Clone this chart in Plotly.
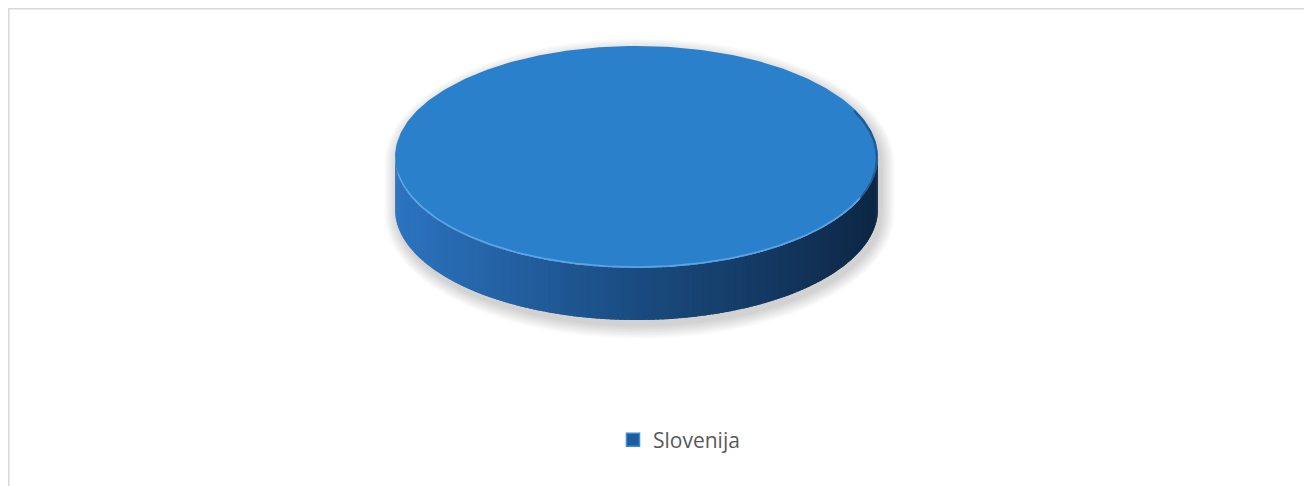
import numpy as np
import plotly.graph_objects as go

# ---- data ----
labels = ["Slovenija"]
values = [100.0]

# ---- style / layout parameters ----
W, H = 1312, 486
CX, CY = 628.5, 149.0       # centre of top face (px, figure coords)
RA, RB = 241.5, 111.0       # semi-axes of top ellipse
DEPTH = 52.0                # thickness of the 3D pie
TOP_COLOR = "#2B80CC"
SIDE_STOPS = [(0.0, (44, 116, 192)), (0.45, (27, 79, 134)), (0.75, (20, 58, 100)), (1.0, (13, 38, 68))]


def pt(theta, dy=0.0, ga=0.0, gb=0.0):
    # theta: clockwise from 12 o'clock, radians
    return CX + (RA + ga) * np.sin(theta), CY - (RB + gb) * np.cos(theta) + dy


def side_color(x):
    u = (x - (CX - RA)) / (2 * RA)
    u = min(max(u, 0.0), 1.0)
    for (u0, c0), (u1, c1) in zip(SIDE_STOPS[:-1], SIDE_STOPS[1:]):
        if u0 <= u <= u1:
            f = (u - u0) / (u1 - u0) if u1 > u0 else 0
            c = [round(c0[i] + f * (c1[i] - c0[i])) for i in range(3)]
            return "rgb(%d,%d,%d)" % tuple(c)
    return "rgb(%d,%d,%d)" % SIDE_STOPS[-1][1]


fig = go.Figure()

# slice angular spans derived from the values
vals = np.array(values, dtype=float)
frac = vals / vals.sum()
ends = np.cumsum(frac) * 2 * np.pi
starts = ends - frac * 2 * np.pi

# ---- soft shadow (silhouette of the cylinder, expanded) ----
th_back = np.linspace(-np.pi / 2, np.pi / 2, 181)
th_front = np.linspace(np.pi / 2, 3 * np.pi / 2, 181)
for k in range(9, 0, -1):
    g = k * 1.5
    xs1, ys1 = pt(th_back, dy=6, ga=g, gb=g)
    xs2, ys2 = pt(th_front, dy=DEPTH + 5, ga=g, gb=g)
    fig.add_trace(go.Scatter(
        x=np.concatenate([xs1 + 3, xs2 + 3]), y=np.concatenate([ys1, ys2]),
        mode="lines", fill="toself", fillcolor="rgba(0,0,0,0.02)",
        line=dict(width=0), hoverinfo="skip", showlegend=False))

# ---- side walls (visible front half) ----
for s, e in zip(starts, ends):
    lo, hi = max(s, np.pi / 2), min(e, 3 * np.pi / 2)
    if hi <= lo:
        continue
    n = 160
    edges = np.linspace(lo, hi, n + 1)
    dt = (hi - lo) / n
    for t0, t1 in zip(edges[:-1], edges[1:]):
        t1x = min(t1 + dt * 0.8, hi)
        tt = np.linspace(t0, t1x, 4)
        xa, ya = pt(tt)
        xb, yb = pt(tt[::-1], dy=DEPTH)
        col = side_color(pt((t0 + t1) / 2)[0])
        fig.add_trace(go.Scatter(
            x=np.concatenate([xa, xb]), y=np.concatenate([ya, yb]),
            mode="lines", fill="toself", fillcolor=col,
            line=dict(width=0), hoverinfo="skip", showlegend=False))

# ---- top faces ----
for lab, s, e, v in zip(labels, starts, ends, values):
    tt = np.linspace(s, e, 361)
    xs, ys = pt(tt)
    if e - s < 2 * np.pi - 1e-9:
        xs = np.concatenate([[CX], xs, [CX]])
        ys = np.concatenate([[CY], ys, [CY]])
    fig.add_trace(go.Scatter(
        x=xs, y=ys, mode="lines", fill="toself", fillcolor=TOP_COLOR,
        line=dict(width=0, color=TOP_COLOR), name=lab, legendgroup=lab,
        hovertemplate=f"{lab}: {v:g}<extra></extra>", showlegend=False))
    # legend entry (square marker)
    fig.add_trace(go.Scatter(
        x=[None], y=[None], mode="markers", name=lab, legendgroup=lab,
        marker=dict(symbol="square", size=13, color="#1F5C9C",
                    line=dict(color="#3A8AD4", width=1.5)),
        showlegend=True))

# rim highlight along front edge, dark bevel on right
tt = np.linspace(np.pi * 0.62, np.pi * 1.45, 200)
xs, ys = pt(tt, dy=-1.0)
fig.add_trace(go.Scatter(x=xs, y=ys, mode="lines", line=dict(color="rgba(110,175,240,0.75)", width=1.6),
                         hoverinfo="skip", showlegend=False))
tt = np.linspace(np.pi * 0.36, np.pi * 0.62, 100)
xs, ys = pt(tt, dy=1.0, ga=-1.0)
fig.add_trace(go.Scatter(x=xs, y=ys, mode="lines", line=dict(color="rgba(15,45,80,0.45)", width=2.4),
                         hoverinfo="skip", showlegend=False))

fig.update_layout(
    width=W, height=H,
    margin=dict(l=0, r=0, t=0, b=0),
    paper_bgcolor="white", plot_bgcolor="white",
    xaxis=dict(range=[0, W], visible=False, fixedrange=True),
    yaxis=dict(range=[H, 0], visible=False, fixedrange=True),
    showlegend=True,
    legend=dict(orientation="h", x=605 / W, xanchor="left", y=1 - 432 / H, yanchor="middle",
                font=dict(family="Open Sans, Liberation Sans, sans-serif", size=21, color="#595959"),
                itemwidth=30, bgcolor="rgba(0,0,0,0)"),
    shapes=[dict(type="rect", xref="paper", yref="paper",
                 x0=0.8 / W, x1=1.05, y0=-0.05, y1=1 - 0.8 / H,
                 line=dict(color="#D9D9D9", width=1.6), fillcolor="rgba(0,0,0,0)", layer="below")],
)

fig.write_html("out.html")
